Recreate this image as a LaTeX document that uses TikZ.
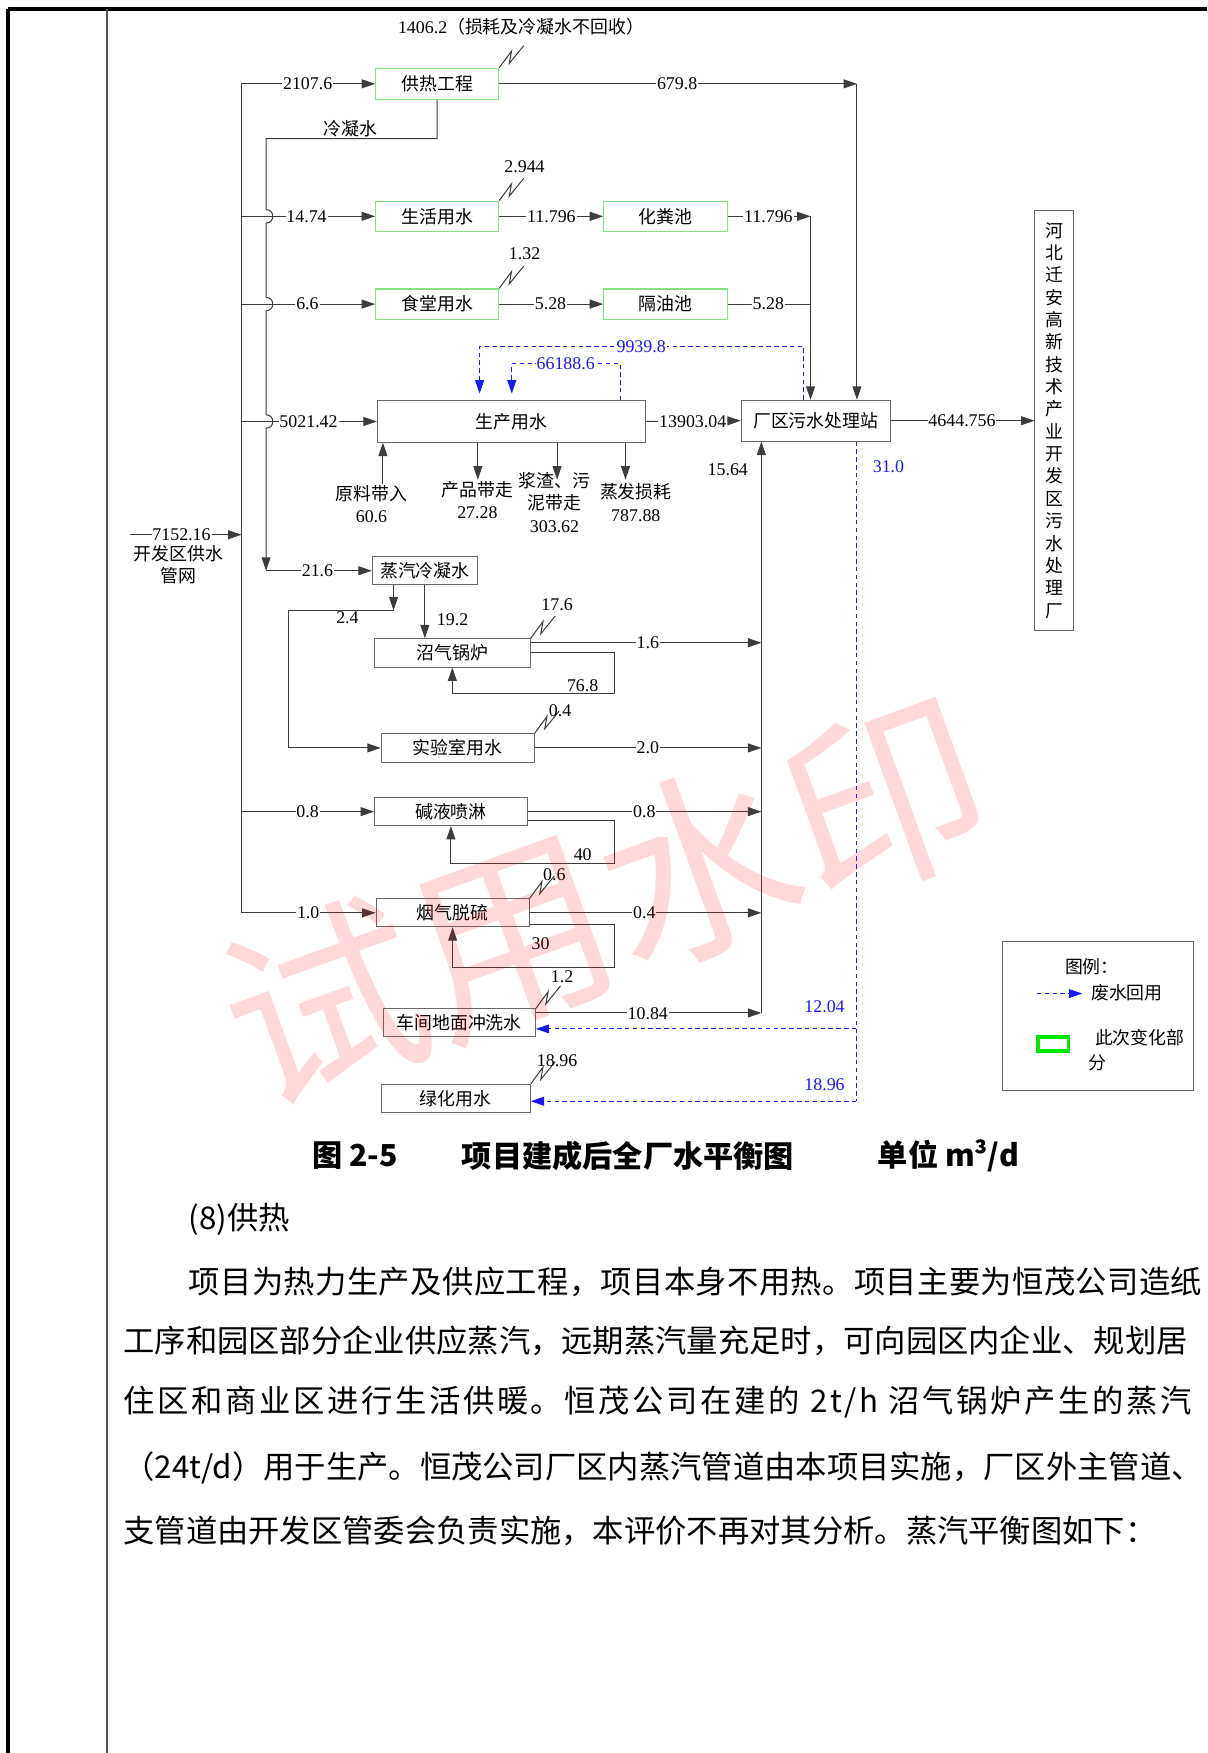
\documentclass[tikz,border=0pt]{standalone}
\usepackage{fontspec}
\setmainfont{Liberation Serif}
\newfontfamily\zh{Noto Sans CJK SC}
\usetikzlibrary{arrows.meta,calc}
\definecolor{lncol}{RGB}{60,60,60}
\definecolor{boxcol}{RGB}{105,105,105}
\definecolor{grn}{RGB}{135,225,135}
\definecolor{bl}{RGB}{25,25,240}
\definecolor{legg}{RGB}{0,230,0}
\definecolor{framegray}{RGB}{85,85,85}
\newcommand\zhf{\zh\fontsize{16}{20}\selectfont}
\newcommand\numf{\rmfamily\fontsize{16}{20}\selectfont}
\newcommand\bodyf{\zh\fontsize{28}{34}\selectfont}
\newcommand\capf{\zh\bfseries\fontsize{27}{32}\selectfont}
\newcommand\zzg[1]{\draw[ln] (#1) -- ++(11,-15) -- ++(-2,11) -- ++(13,-16);}
\begin{document}
\begin{tikzpicture}[x=1pt,y=-1pt,
  ln/.style={draw=lncol, line width=0.9pt},
  arr/.style={ln, -{Triangle[length=12pt,width=8pt]}},
  bln/.style={draw=bl, line width=0.9pt, dash pattern=on 4pt off 3pt},
  barr/.style={bln, -{Triangle[length=12pt,width=8pt]}},
  gbox/.style={draw=grn, line width=1pt, inner sep=0pt, font=\zhf},
  bbox/.style={draw=boxcol, line width=0.9pt, inner sep=0pt, font=\zhf},
  lab/.style={font=\numf, inner sep=0.8pt, fill=white},
  txt/.style={font=\numf, inner sep=0.8pt, align=center},
  ztx/.style={font=\zhf, inner sep=0.8pt, align=center},
  blab/.style={font=\numf, inner sep=0.8pt, text=bl},
  bodyline/.style={anchor=west, inner sep=0pt, font=\bodyf},
]
\useasboundingbox (0,0) rectangle (1080,1568);
% page frame
\draw[line width=3pt, black] (7,8) -- (1080,8);
\draw[line width=3pt, black] (7,8) -- (7,1568);
\draw[line width=1.6pt, framegray] (96,8) -- (96,1568);

% boxes
\node[gbox, minimum width=110pt, minimum height=27.5pt] (gr) at (391,75) {供热工程};
\node[gbox, minimum width=110pt, minimum height=27pt] (sh) at (391,193.5) {生活用水};
\node[gbox, minimum width=111pt, minimum height=27pt] (hf) at (595.5,193.5) {化粪池};
\node[gbox, minimum width=110pt, minimum height=27pt] (st) at (391,272) {食堂用水};
\node[gbox, minimum width=111pt, minimum height=27pt] (gy) at (595.5,272) {隔油池};
\node[bbox, minimum width=240pt, minimum height=37pt] (sc) at (457.5,377) {生产用水};
\node[bbox, minimum width=133.4pt, minimum height=36.6pt] (ws) at (729.7,376.3) {厂区污水处理站};
\node[bbox, minimum width=34.3pt, minimum height=376pt, align=center] (hb) at (942.85,376)
  {河\\北\\迁\\安\\高\\新\\技\\术\\产\\业\\开\\发\\区\\污\\水\\处\\理\\厂};
\node[bbox, minimum width=94pt, minimum height=25pt] (zq) at (380,510.5) {蒸汽冷凝水};
\node[bbox, minimum width=139.3pt, minimum height=25.3pt] (zg) at (404.6,584) {沼气锅炉};
\node[bbox, minimum width=136.8pt, minimum height=25.4pt] (sy) at (409.4,669) {实验室用水};
\node[bbox, minimum width=136.6pt, minimum height=24.8pt] (jy) at (403.3,726) {碱液喷淋};
\node[bbox, minimum width=136.9pt, minimum height=25pt] (yq) at (404.85,816.5) {烟气脱硫};
\node[bbox, minimum width=136.2pt, minimum height=25pt] (cj) at (410.7,915) {车间地面冲洗水};
\node[bbox, minimum width=133.3pt, minimum height=25.4pt] (lh) at (407.6,982.7) {绿化用水};

% junction coordinates
\coordinate (mT) at (216,75);
\coordinate (mB) at (216,816.5);
\coordinate (src) at (116,478.3);
\coordinate (c1) at (238,124);
\coordinate (c2) at (238,510.5);
\coordinate (j1) at (725,193.5);
\coordinate (j2) at (766.5,75);
\coordinate (k0) at (681,906.4);
\coordinate (d1) at (719,310);
\coordinate (d2) at (429,310);
\coordinate (e1) at (555.3,325.5);
\coordinate (e2) at (457.8,325.5);
\coordinate (f1) at (766,920.3);
\coordinate (f2) at (766,985);
\coordinate (p0) at (342.5,433);
\coordinate (p1) at (427.4,429);
\coordinate (p2) at (498.3,429);
\coordinate (p3) at (559.5,429);
\coordinate (t1) at (352,546);
\coordinate (t2) at (258,546);
\coordinate (zgl) at (549.6,620);
\coordinate (jyl) at (549.6,772.5);
\coordinate (yql) at (549.6,865.7);

% supply main
\draw[ln] (mT) -- (mB);
\draw[arr] (src) -- (mT|-src);
\draw[arr] (mT) -- (gr.west);
\draw[arr] (mT|-sh.west) -- (sh.west);
\draw[arr] (mT|-st.west) -- (st.west);
\draw[arr] (mT|-sc.west) -- (sc.west);
\draw[arr] (mT|-jy.west) -- (jy.west);
\draw[arr] (mB) -- (yq.west);
% condensate line with hops
\draw[arr] (gr.south) |- (c1) -- (238,187.5) .. controls (246,187.5) and (246,199.5) .. (238,199.5)
  -- (238,266) .. controls (246,266) and (246,278) .. (238,278)
  -- (238,371) .. controls (246,371) and (246,383) .. (238,383) -- (c2);
\draw[arr] (c2) -- (zq.west);

% upper outputs
\draw[arr] (sh.east) -- (hf.west);
\draw[arr] (st.east) -- (gy.west);
\draw[arr] (hf.east) -- (j1);
\draw[arr] (j1) -- (j1|-ws.north);
\draw[ln] (gy.east) -- (j1|-gy.east);
\draw[arr] (gr.east) -- (j2);
\draw[arr] (j2) -- (j2|-ws.north);
\draw[arr] (sc.east) -- (ws.west);
\draw[arr] (ws.east) -- (hb.west|-ws.east);

% production in/out
\draw[arr] (p0) -- (p0|-sc.south);
\draw[arr] (p1|-sc.south) -- (p1);
\draw[arr] (p2|-sc.south) -- (p2);
\draw[arr] (p3|-sc.south) -- (p3);

% recycled (blue dashed)
\draw[barr, shorten >=6pt] (d1|-ws.north) -- (d1) -- (d2) -- (d2|-sc.north);
\draw[barr, shorten >=6pt] (e1|-sc.north) -- (e1) -- (e2) -- (e2|-sc.north);
\draw[bln] (f1|-ws.south) -- (f2);
\draw[barr] (f1) -- (cj.east|-f1);
\draw[barr] (f2) -- (lh.east|-f2);

% steam condensate branch
\draw[arr] (t1|-zq.south) -- (t1);
\draw[arr] (t1) -- (t2) |- (sy.west);
\draw[arr] (zq.south) -- (zq.south|-zg.north);

% collector
\draw[arr] (k0) -- (k0|-ws.south);
\draw[arr] ($(zg.north east)+(0,4)$) coordinate (o1) -- (k0|-o1);
\draw[arr] (sy.east) -- (k0|-sy.east);
\draw[arr] (jy.east) -- (k0|-jy.east);
\draw[arr] (yq.east) -- (k0|-yq.east);
\draw[arr] ($(cj.north east)+(0,4)$) coordinate (o2) -- (k0|-o2);

% loops
\draw[arr] (zg.east) -| (zgl) -| (zg.south);
\draw[arr] ($(jy.east)+(0,7.5)$) -| (jyl) -| (jy.south);
\draw[arr] ($(yq.east)+(0,10)$) -| (yql) -| (yq.south);

% loss squiggles
\zzg{gr.north east}
\zzg{sh.north east}
\zzg{st.north east}
\zzg{zg.north east}
\zzg{sy.north east}
\zzg{yq.north east}
\zzg{cj.north east}
\zzg{lh.north east}

% labels on lines
\node[lab] (n1) at (275.2,75) {2107.6};
\node[lab] (n2) at (274.2,193.5) {14.74};
\node[lab] (n3) at (275,272) {6.6};
\node[lab] (n4) at (276,377) {5021.42};
\node[lab] (n5) at (284,510.5) {21.6};
\node[lab] (n6) at (275.2,726) {0.8};
\node[lab] (n7) at (275.7,816.5) {1.0};
\node[lab] (n8) at (493.2,193.5) {11.796};
\node[lab] (n9) at (492.4,272) {5.28};
\node[lab] (n10) at (687.3,193.5) {11.796};
\node[lab] (n11) at (687.3,272) {5.28};
\node[lab] (n12) at (605.7,75) {679.8};
\node[lab] (n13) at (619.6,377) {13903.04};
\node[lab] (n14) at (860.5,376.3) {4644.756};
\node[lab] (n15) at (579.4,575.2) {1.6};
\node[lab] (n16) at (579.4,669) {2.0};
\node[lab] (n17) at (576.3,726) {0.8};
\node[lab] (n18) at (576.3,816.5) {0.4};
\node[lab] (n19) at (579.4,906.4) {10.84};
\node[lab] (n20) at (162.4,478.3) {7152.16};
\node[lab, text=bl] (n21) at (573.5,310) {9939.8};
\node[lab, text=bl] (n22) at (506,325.5) {66188.6};

% free labels
\node[txt] (n23) at (466,24) {1406.2{\zh （损耗及冷凝水不回收）}};
\node[ztx] (n24) at (313.5,114.7) {冷凝水};
\node[txt] (n25) at (469.2,149) {2.944};
\node[txt] (n26) at (469.2,226.5) {1.32};
\node[txt] (n27) at (332.3,451) {{\zh 原料带入}\\60.6};
\node[txt] (n28) at (427,447.6) {{\zh 产品带走}\\27.28};
\node[txt] (n29) at (496,449.5) {{\zh 浆渣、污}\\{\zh 泥带走}\\303.62};
\node[txt] (n30) at (568.7,449.5) {{\zh 蒸发损耗}\\787.88};
\node[txt] (n31) at (651,420) {15.64};
\node[blab] (n32) at (794.7,417.2) {31.0};
\node[txt] (n33) at (159.4,505.2) {{\zh 开发区供水}\\{\zh 管网}};
\node[txt] (n34) at (310.8,552.8) {2.4};
\node[txt] (n35) at (404.8,554.3) {19.2};
\node[txt] (n36) at (498.3,540.9) {17.6};
\node[txt] (n37) at (521.2,613.3) {76.8};
\node[txt] (n38) at (501,635.4) {0.4};
\node[txt] (n39) at (521.2,764.4) {40};
\node[txt] (n40) at (495.8,782.3) {0.6};
\node[txt] (n41) at (483.6,844) {30};
\node[txt] (n42) at (502.7,873.2) {1.2};
\node[txt] (n43) at (498.3,948.3) {18.96};
\node[blab] (n44) at (737.5,900) {12.04};
\node[blab] (n45) at (737.5,970.6) {18.96};

% legend
\node[draw=boxcol, line width=0.9pt, minimum width=171.2pt, minimum height=133.2pt, inner sep=0pt] (lg) at (981.9,908.5) {};
\node[ztx] (lgt) at (976.6,864.3) {图例：};
\coordinate (la) at (927.5,888.7);
\coordinate (lb) at (968,888.7);
\draw[barr] (la) -- (lb);
\node[ztx, anchor=west] (lgw) at (975,887.5) {废水回用};
\node[draw=legg, line width=3.5pt, minimum width=27pt, minimum height=12.2pt, inner sep=0pt] (lgr) at (942.2,933.8) {};
\node[ztx, anchor=west] (lgc1) at (978.5,928.3) {此次变化部};
\node[ztx, anchor=west] (lgc2) at (972.8,950.7) {分};

% caption
\node[anchor=west, inner sep=0pt, font=\capf] (cap1) at (279,1034) {图 2-5};
\node[anchor=west, inner sep=0pt, font=\capf] (cap2) at (413,1034) {项目建成后全厂水平衡图};
\node[anchor=west, inner sep=0pt, font=\capf] (cap3) at (785,1034) {单位 m³/d};

% body text
\node[bodyline] (b0) at (168.8,1090.7) {(8)供热};
\node[bodyline] (b1) at (168.8,1146.8) {\addfontfeature{LetterSpace=1.2}项目为热力生产及供应工程，项目本身不用热。项目主要为恒茂公司造纸};
\node[bodyline] (b2) at (110.2,1199.5) {工序和园区部分企业供应蒸汽，远期蒸汽量充足时，可向园区内企业、规划居};
\node[bodyline] (b3) at (110.2,1254) {\addfontfeature{LetterSpace=8.5}住区和商业区进行生活供暖。恒茂公司在建的\kern9pt 2t/h\kern9pt 沼气锅炉产生的蒸汽};
\node[bodyline] (b4) at (110.2,1312.8) {（24t/d）用于生产。恒茂公司厂区内蒸汽管道由本项目实施，厂区外主管道、};
\node[bodyline] (b5) at (110.2,1369.4) {支管道由开发区管委会负责实施，本评价不再对其分析。蒸汽平衡图如下：};

% watermark
\node[rotate=20, text=red, text opacity=0.15, inner sep=0pt, font=\zh\fontsize{178}{178}\selectfont] (wm) at (541,806) {试用水印};
\end{tikzpicture}
\end{document}
